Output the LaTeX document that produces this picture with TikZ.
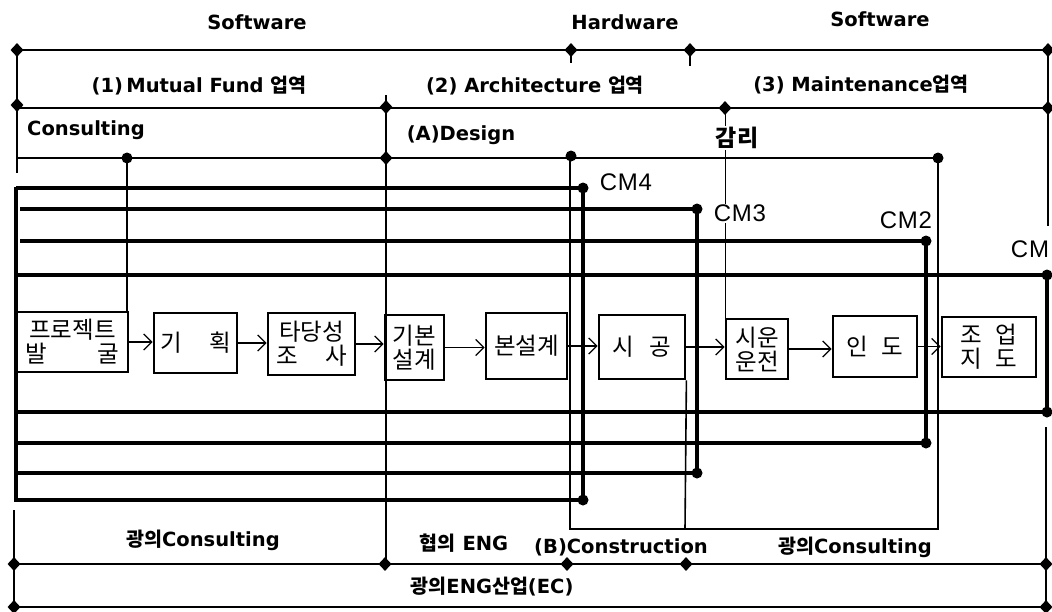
\documentclass[tikz,border=0pt]{standalone}
\usepackage{fontspec}
\setmainfont{DejaVu Sans}
\newfontfamily\kr{Noto Sans CJK KR}
\newfontfamily\cmf{Liberation Sans}[LetterSpace=3]
\usetikzlibrary{arrows.meta,shapes.geometric}
\begin{document}
\begin{tikzpicture}[x=1pt,y=-1pt,
  thinln/.style={line width=1.6pt},
  thickln/.style={line width=3.2pt},
  dia/.style={diamond,fill=black,inner sep=0pt,minimum width=13pt,minimum height=14pt},
  dotn/.style={circle,fill=black,inner sep=0pt,minimum size=11pt},
  stagebox/.style={draw,fill=white,line width=2.8pt,inner sep=0pt,align=center,font=\kr\fontsize{23.5}{24}\selectfont},
  lab/.style={font=\bfseries\fontsize{19.5}{22}\selectfont,inner sep=1pt},
  cmlab/.style={font=\cmf\fontsize{24}{26}\selectfont,inner sep=1pt,fill=white},
  arr/.style={line width=1.3pt,-{Straight Barb[length=8pt,width=16pt,line width=1.3pt]}}
]
\useasboundingbox (0,0) rectangle (1052,611);

% ---------- upper brackets ----------
\draw[thinln] (17,50) -- (1048,50);
\draw[thinln] (17,108) -- (1048,108);
\draw[thinln] (17,50) -- (17,173);
\draw[thinln] (1048,50) -- (1048,226);
\draw[thinln] (571,50) -- (571,63);
\draw[thinln] (690,50) -- (690,66);
\draw[thinln] (386,95) -- (386,564);
\draw[thinln] (17,158) -- (938,158);
\draw[thinln] (938,158) -- (938,529) -- (570,529) -- (570,156);

% ---------- lower brackets ----------
\draw[thinln] (14,510) -- (14,607);
\draw[thinln] (14,564) -- (1046,564);
\draw[thinln] (14,607) -- (1046,607);
\draw[thinln] (1046,427) -- (1046,607);

% ---------- CM loops ----------
\draw[thickln] (16,187) -- (16,500);
\draw[thickln] (16,188) -- (583,188) -- (583,500) -- (14,500);
\draw[thickln] (20,209) -- (697,209) -- (697,473) -- (14,473);
\draw[thickln] (20,241) -- (926,241) -- (926,443) -- (14,443);
\draw[thickln] (14,275) -- (1047,275) -- (1047,412) -- (16,412);

% ---------- stage boxes ----------
\node[stagebox,minimum width=111pt,minimum height=60pt] (b1) at (72.5,342) {프로젝트\\\makebox[4em][s]{발\hfill 굴}};
\node[stagebox,minimum width=83pt,minimum height=60pt] (b2) at (195.5,343) {\makebox[3em][s]{기\hfill 획}};
\node[stagebox,minimum width=87pt,minimum height=62pt] (b3) at (311.5,344) {타당성\\\makebox[3em][s]{조\hfill 사}};
\node[stagebox,minimum width=59pt,minimum height=65pt] (b4) at (414.5,347.5) {기본\\설계};
\node[stagebox,minimum width=81pt,minimum height=66pt] (b5) at (526.5,346) {본설계};
\node[stagebox,minimum width=86pt,minimum height=64pt] (b6) at (642,347) {\makebox[2.5em][s]{시\hfill 공}};
\node[stagebox,minimum width=62pt,minimum height=60pt] (b7) at (757,349) {시운\\운전};
\node[stagebox,minimum width=84pt,minimum height=61pt] (b8) at (875,346.5) {\makebox[2.4em][s]{인\hfill 도}};
\node[stagebox,minimum width=94pt,minimum height=60pt] (b9) at (989,347) {\makebox[2.4em][s]{조\hfill 업}\\\makebox[2.4em][s]{지\hfill 도}};

\draw[thinln] (386,315) -- (386,380);

% connectors between stages
\draw[arr] (b1.east) -- (b1.east -| b2.west);
\draw[arr] (b2.east) -- (b2.east -| b3.west);
\draw[arr] (b3.east) -- (b3.east -| b4.west);
\draw[arr] (b4.east) -- (b4.east -| b5.west);
\draw[arr] (b5.east) -- (b5.east -| b6.west);
\draw[arr] (b6.east) -- (b6.east -| b7.west);
\draw[arr] (b7.east) -- (b7.east -| b8.west);
\draw[arr] (b8.east) -- (b8.east -| b9.west);

% lines ending at boxes
\coordinate (c1) at (127,158);
\draw[thinln] (c1) -- (c1 |- b1.north);
\draw[thinln] (b6.south east) -- (685,529);
\coordinate (gm) at (725,108);
\draw[line width=1pt] (gm) -- (gm |- b7.north);

% ---------- markers ----------
\foreach \p in {(583,188),(583,500),(697,209),(697,473),(926,241),(926,443),(1047,275),(1047,412),(127,158),(571,156),(938,158)}
  \node[dotn] at \p {};
\foreach \p in {(17,50),(571,50),(690,50),(1048,50),(17,105),(386,107),(725,108),(1048,108),(386,158),(14,564),(385,564),(567,564),(686,564),(1046,564),(14,607),(1046,607)}
  \node[dia] at \p {};

% ---------- labels ----------
\node[lab] (sw1) at (257,22) {Software};
\node[lab] (hw) at (625,22) {Hardware};
\node[lab] (sw2) at (880,19) {Software};
\node[lab] (ar1) at (199,86) {(1)\,Mutual Fund {\kr 업역}};
\node[lab] (ar2) at (535,86) {(2) Architecture {\kr 업역}};
\node[lab] (ar3) at (861,85) {(3) Maintenance{\kr 업역}};
\node[lab] (cons) at (86,130) {Consulting};
\node[lab] (des) at (461,135) {(A)Design};
\node[lab,fill=white,font=\kr\bfseries\fontsize{23}{24}\selectfont] (gamri) at (737,138) {감리};
\node[cmlab] (cm4) at (626,182) {CM4};
\node[cmlab] (cm3) at (740,213) {CM3};
\node[cmlab] (cm2) at (906,220) {CM2};
\node[cmlab] (cm) at (1030,249) {CM};
\node[lab] (wc1) at (203,540) {{\kr 광의}Consulting};
\node[lab] (neng) at (464,543) {{\kr 협의} ENG};
\node[lab] (cons2) at (621,547) {(B)Construction};
\node[lab] (wc2) at (855,547) {{\kr 광의}Consulting};
\node[lab] (ec) at (492,587) {{\kr 광의}ENG{\kr 산업}(EC)};
\end{tikzpicture}
\end{document}
